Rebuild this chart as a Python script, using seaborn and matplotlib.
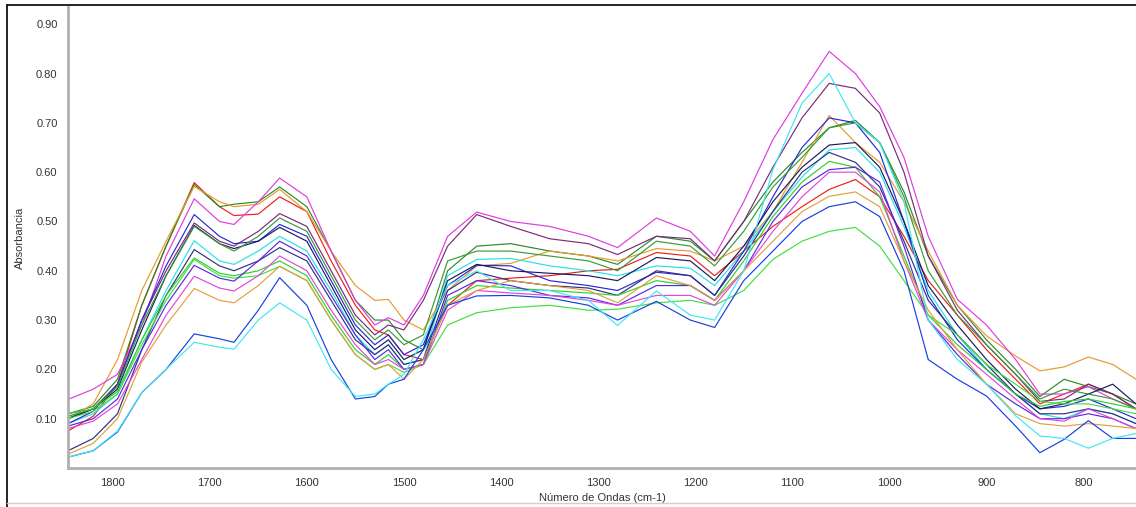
import numpy as np
import pandas as pd
import matplotlib
matplotlib.use("Agg")
import matplotlib.pyplot as plt
import seaborn as sns
from matplotlib.lines import Line2D
from matplotlib.ticker import MultipleLocator, FormatStrFormatter

# wavenumber grid (cm-1)
wavenumbers = [1846, 1820, 1795, 1770, 1745, 1716, 1690, 1675, 1650, 1628, 1600, 1575, 1550, 1530,
               1516, 1500, 1480, 1455, 1425, 1390, 1350, 1310, 1280, 1240, 1205, 1180, 1150, 1120,
               1090, 1062, 1035, 1010, 985, 960, 930, 900, 870, 845, 820, 795, 770, 746]

red = [0.075, 0.105, 0.17, 0.33, 0.45, 0.579, 0.53, 0.512, 0.515, 0.55, 0.52, 0.42, 0.33, 0.28,
       0.27, 0.23, 0.22, 0.33, 0.38, 0.385, 0.39, 0.40, 0.403, 0.437, 0.43, 0.39, 0.44, 0.49,
       0.53, 0.565, 0.585, 0.55, 0.47, 0.38, 0.31, 0.24, 0.18, 0.13, 0.15, 0.17, 0.15, 0.12]
dark_green = [0.11, 0.125, 0.18, 0.33, 0.45, 0.575, 0.53, 0.535, 0.54, 0.57, 0.53, 0.44, 0.34, 0.30,
              0.30, 0.26, 0.24, 0.40, 0.45, 0.455, 0.44, 0.43, 0.413, 0.47, 0.46, 0.42, 0.50, 0.58,
              0.64, 0.69, 0.705, 0.66, 0.56, 0.43, 0.33, 0.26, 0.20, 0.145, 0.18, 0.165, 0.15, 0.13]
orange = [0.10, 0.13, 0.22, 0.36, 0.46, 0.571, 0.54, 0.53, 0.535, 0.565, 0.52, 0.44, 0.37, 0.34,
          0.342, 0.30, 0.28, 0.36, 0.41, 0.415, 0.44, 0.43, 0.42, 0.445, 0.44, 0.42, 0.45, 0.52,
          0.62, 0.715, 0.66, 0.62, 0.54, 0.44, 0.33, 0.268, 0.227, 0.197, 0.205, 0.225, 0.21, 0.18]
magenta = [0.139, 0.16, 0.19, 0.29, 0.43, 0.546, 0.50, 0.494, 0.54, 0.588, 0.55, 0.44, 0.34, 0.29,
           0.305, 0.29, 0.35, 0.47, 0.519, 0.50, 0.49, 0.47, 0.447, 0.507, 0.48, 0.43, 0.54, 0.666,
           0.76, 0.845, 0.80, 0.733, 0.63, 0.47, 0.342, 0.29, 0.22, 0.15, 0.15, 0.165, 0.14, 0.12]
purple = [0.10, 0.12, 0.17, 0.30, 0.40, 0.497, 0.46, 0.45, 0.48, 0.516, 0.49, 0.40, 0.31, 0.27,
          0.29, 0.28, 0.34, 0.45, 0.514, 0.49, 0.465, 0.455, 0.433, 0.47, 0.465, 0.42, 0.50, 0.61,
          0.71, 0.78, 0.77, 0.72, 0.60, 0.43, 0.32, 0.25, 0.19, 0.135, 0.14, 0.17, 0.15, 0.12]
cyan = [0.09, 0.11, 0.15, 0.26, 0.36, 0.461, 0.42, 0.413, 0.44, 0.47, 0.44, 0.36, 0.27, 0.23,
        0.25, 0.21, 0.22, 0.39, 0.423, 0.425, 0.41, 0.40, 0.39, 0.41, 0.405, 0.37, 0.44, 0.52,
        0.59, 0.645, 0.65, 0.60, 0.49, 0.36, 0.27, 0.20, 0.15, 0.11, 0.10, 0.12, 0.11, 0.09]
blue = [0.09, 0.115, 0.17, 0.30, 0.41, 0.514, 0.47, 0.455, 0.46, 0.494, 0.47, 0.38, 0.29, 0.25,
        0.27, 0.23, 0.25, 0.37, 0.411, 0.41, 0.38, 0.37, 0.36, 0.397, 0.39, 0.35, 0.44, 0.55,
        0.65, 0.71, 0.70, 0.64, 0.50, 0.35, 0.26, 0.20, 0.15, 0.12, 0.125, 0.14, 0.12, 0.10]
navy = [0.10, 0.12, 0.16, 0.28, 0.39, 0.492, 0.455, 0.445, 0.46, 0.488, 0.46, 0.37, 0.28, 0.24,
        0.26, 0.22, 0.24, 0.38, 0.413, 0.40, 0.395, 0.39, 0.38, 0.427, 0.42, 0.38, 0.45, 0.54,
        0.61, 0.655, 0.66, 0.61, 0.50, 0.37, 0.29, 0.22, 0.16, 0.12, 0.13, 0.15, 0.17, 0.13]
green = [0.105, 0.12, 0.165, 0.29, 0.39, 0.49, 0.455, 0.44, 0.47, 0.507, 0.48, 0.39, 0.30, 0.26,
         0.28, 0.25, 0.27, 0.42, 0.44, 0.44, 0.43, 0.42, 0.40, 0.46, 0.45, 0.41, 0.48, 0.57,
         0.63, 0.69, 0.70, 0.66, 0.55, 0.40, 0.31, 0.25, 0.19, 0.14, 0.16, 0.15, 0.14, 0.12]
navy2 = [0.035, 0.06, 0.11, 0.24, 0.35, 0.443, 0.41, 0.40, 0.42, 0.447, 0.42, 0.34, 0.26, 0.23,
         0.25, 0.21, 0.22, 0.36, 0.397, 0.38, 0.37, 0.365, 0.35, 0.40, 0.39, 0.35, 0.43, 0.52,
         0.60, 0.64, 0.62, 0.57, 0.46, 0.34, 0.27, 0.21, 0.15, 0.11, 0.11, 0.12, 0.11, 0.09]
lime = [0.11, 0.12, 0.155, 0.26, 0.35, 0.426, 0.395, 0.39, 0.40, 0.42, 0.39, 0.31, 0.24, 0.21,
        0.23, 0.20, 0.21, 0.34, 0.37, 0.365, 0.36, 0.355, 0.35, 0.38, 0.37, 0.34, 0.42, 0.51,
        0.58, 0.622, 0.61, 0.55, 0.43, 0.31, 0.25, 0.20, 0.15, 0.125, 0.135, 0.14, 0.13, 0.12]
lime2 = [0.10, 0.115, 0.15, 0.25, 0.34, 0.423, 0.39, 0.385, 0.39, 0.409, 0.38, 0.30, 0.23, 0.20,
         0.21, 0.194, 0.21, 0.29, 0.315, 0.325, 0.33, 0.32, 0.322, 0.335, 0.34, 0.33, 0.36, 0.423,
         0.46, 0.48, 0.488, 0.45, 0.38, 0.31, 0.27, 0.21, 0.17, 0.135, 0.13, 0.13, 0.12, 0.11]
violet = [0.085, 0.10, 0.14, 0.24, 0.33, 0.411, 0.385, 0.379, 0.42, 0.46, 0.43, 0.35, 0.27, 0.22,
          0.24, 0.20, 0.21, 0.35, 0.38, 0.37, 0.35, 0.345, 0.33, 0.37, 0.37, 0.34, 0.40, 0.50,
          0.57, 0.605, 0.61, 0.58, 0.45, 0.30, 0.23, 0.17, 0.13, 0.10, 0.10, 0.11, 0.10, 0.08]
magenta2 = [0.08, 0.095, 0.13, 0.22, 0.31, 0.389, 0.365, 0.359, 0.39, 0.43, 0.40, 0.32, 0.25, 0.21,
            0.22, 0.20, 0.21, 0.32, 0.36, 0.355, 0.35, 0.34, 0.33, 0.35, 0.35, 0.33, 0.40, 0.48,
            0.55, 0.60, 0.60, 0.56, 0.42, 0.30, 0.24, 0.19, 0.14, 0.10, 0.095, 0.12, 0.10, 0.08]
orange2 = [0.028, 0.05, 0.10, 0.215, 0.29, 0.364, 0.34, 0.335, 0.37, 0.409, 0.38, 0.30, 0.23, 0.20,
           0.21, 0.18, 0.22, 0.33, 0.36, 0.38, 0.37, 0.36, 0.335, 0.39, 0.37, 0.34, 0.40, 0.46,
           0.52, 0.551, 0.56, 0.53, 0.42, 0.32, 0.24, 0.17, 0.11, 0.09, 0.085, 0.09, 0.085, 0.08]
royal = [0.022, 0.035, 0.073, 0.153, 0.20, 0.272, 0.262, 0.255, 0.32, 0.386, 0.33, 0.22, 0.14, 0.145,
         0.17, 0.18, 0.24, 0.33, 0.349, 0.35, 0.345, 0.33, 0.30, 0.338, 0.30, 0.285, 0.38, 0.44,
         0.50, 0.53, 0.54, 0.51, 0.40, 0.22, 0.18, 0.146, 0.085, 0.031, 0.058, 0.096, 0.06, 0.06]
cyan2 = [0.022, 0.035, 0.075, 0.153, 0.20, 0.255, 0.245, 0.241, 0.30, 0.335, 0.30, 0.20, 0.145, 0.15,
         0.17, 0.19, 0.26, 0.37, 0.40, 0.36, 0.36, 0.34, 0.289, 0.359, 0.31, 0.30, 0.40, 0.605,
         0.74, 0.80, 0.70, 0.66, 0.54, 0.30, 0.22, 0.17, 0.106, 0.065, 0.06, 0.04, 0.06, 0.07]

spectra = {
    "red": red, "dark_green": dark_green, "orange": orange, "magenta": magenta,
    "purple": purple, "cyan": cyan, "blue": blue, "navy": navy, "green": green,
    "navy2": navy2, "lime": lime, "lime2": lime2, "violet": violet, "magenta2": magenta2,
    "orange2": orange2, "royal": royal, "cyan2": cyan2,
}
colors = {
    "red": "#e8201c", "dark_green": "#2a8a2a", "orange": "#e89a2c", "magenta": "#e03ce0",
    "purple": "#7a2a7a", "cyan": "#28e0e8", "blue": "#2828d8", "navy": "#1a1a60",
    "green": "#3a9a3a", "navy2": "#303080", "lime": "#30d030", "lime2": "#40e040",
    "violet": "#5a28e0", "magenta2": "#e048d8", "orange2": "#e0a040", "royal": "#1840e0",
    "cyan2": "#40e8f0",
}

df = pd.concat(
    [pd.DataFrame({"wn": wavenumbers, "abs": vals, "sample": name}) for name, vals in spectra.items()],
    ignore_index=True,
)

sns.set_style("white")
plt.rcParams["font.family"] = ["Liberation Sans", "DejaVu Sans"]

fig = plt.figure(figsize=(11.36, 5.07), dpi=100)
ax = fig.add_axes([68 / 1136, 1 - 468 / 507, 1 - 68 / 1136, (468 - 7) / 507])

sns.lineplot(data=df, x="wn", y="abs", hue="sample", palette=colors, estimator=None,
             sort=False, legend=False, linewidth=0.85, ax=ax)

ax.set_xlim(1846, 746)
ax.set_ylim(0.0, 0.935)
ax.yaxis.set_minor_locator(MultipleLocator(0.02))
ax.yaxis.set_major_formatter(FormatStrFormatter("%.2f"))
ax.xaxis.set_major_locator(MultipleLocator(100))
ax.xaxis.set_minor_locator(MultipleLocator(25))
ax.set_yticks([0.1, 0.2, 0.3, 0.4, 0.5, 0.6, 0.7, 0.8, 0.9])

ax.tick_params(axis="both", which="major", length=4, width=1, color="#555555",
               labelsize=8, labelcolor="#333333", direction="out")
ax.tick_params(axis="both", which="minor", length=2, width=1, color="#777777", direction="out")

for side in ["top", "right"]:
    ax.spines[side].set_visible(False)
for side in ["left", "bottom"]:
    ax.spines[side].set_color("#b0b0b0")
    ax.spines[side].set_linewidth(2)

ax.set_xlabel("Número de Ondas (cm-1)", fontsize=8, color="#333333", labelpad=3)
ax.set_ylabel("Absorbancia", fontsize=8, color="#333333", labelpad=8)

# outer frame of the window
fig.add_artist(Line2D([7 / 1136, 7 / 1136], [0, 1 - 5 / 507], color="black", lw=1.2))
fig.add_artist(Line2D([7 / 1136, 1], [1 - 5 / 507, 1 - 5 / 507], color="black", lw=1.2))
fig.add_artist(Line2D([7 / 1136, 1], [4 / 507, 4 / 507], color="#d0d0d0", lw=1.0))

fig.savefig("out.png", dpi=100)
